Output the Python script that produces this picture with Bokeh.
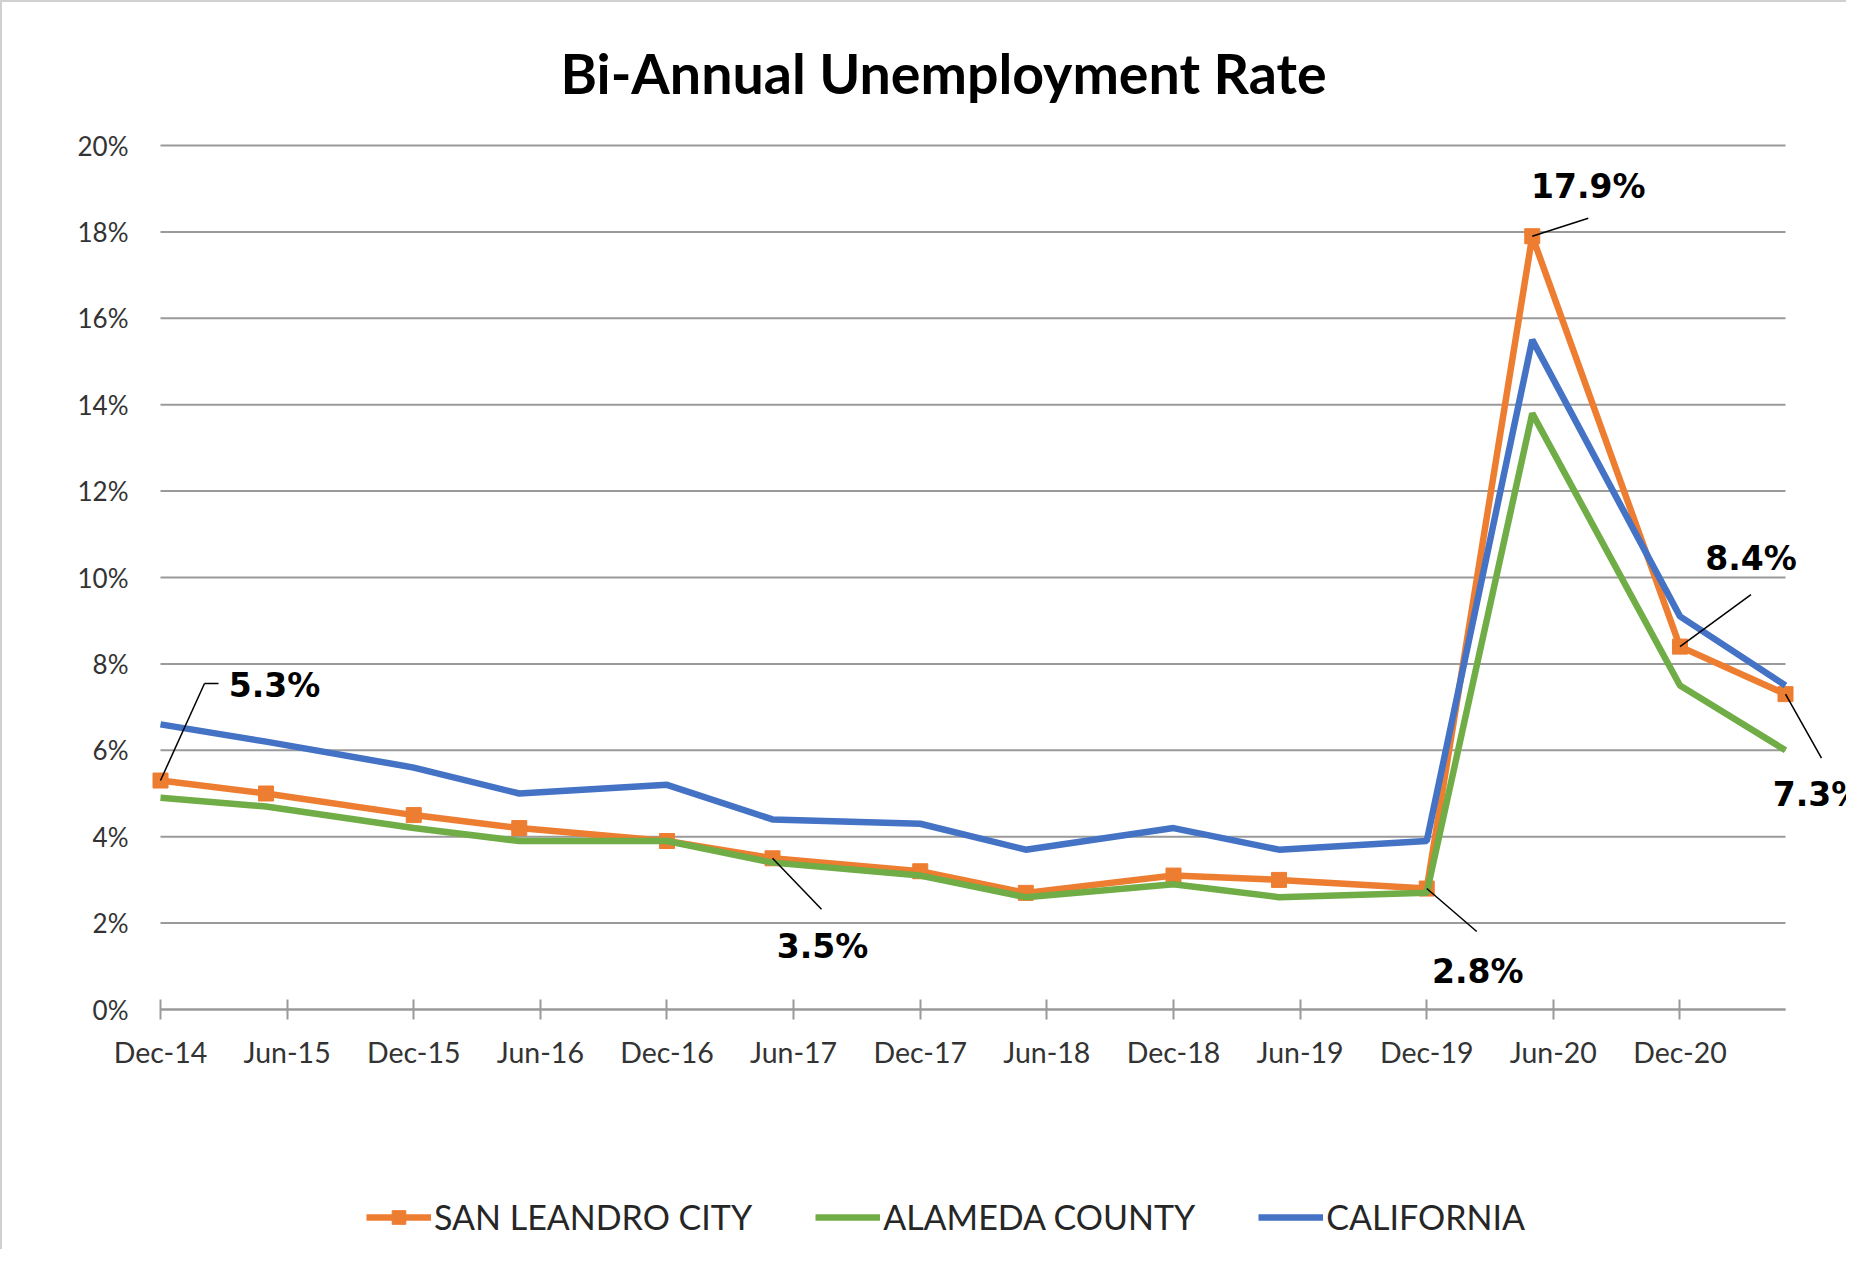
from bokeh.plotting import figure
from bokeh.models import (Range1d, FixedTicker, Legend, LegendItem, Label, Arrow,
                          ColumnDataSource)
from bokeh.embed import file_html
from bokeh.resources import INLINE

# ---------------- data ----------------
# months after Dec-2014 at which each observation is plotted (Dec / May of each year)
months = [0, 5, 12, 17, 24, 29, 36, 41, 48, 53, 60, 65, 72, 77]
san_leandro = [5.3, 5.0, 4.5, 4.2, 3.9, 3.5, 3.2, 2.7, 3.1, 3.0, 2.8, 17.9, 8.4, 7.3]
alameda = [4.9, 4.7, 4.2, 3.9, 3.9, 3.4, 3.1, 2.6, 2.9, 2.6, 2.7, 13.8, 7.5, 6.0]
california = [6.6, 6.2, 5.6, 5.0, 5.2, 4.4, 4.3, 3.7, 4.2, 3.7, 3.9, 15.5, 9.1, 7.5]

x_tick_pos = [0, 6, 12, 18, 24, 30, 36, 42, 48, 54, 60, 66, 72]
x_tick_labels = ["Dec-14", "Jun-15", "Dec-15", "Jun-16", "Dec-16", "Jun-17", "Dec-17",
                 "Jun-18", "Dec-18", "Jun-19", "Dec-19", "Jun-20", "Dec-20"]
y_tick_pos = [0, 2, 4, 6, 8, 10, 12, 14, 16, 18, 20]
y_tick_labels = ["0%", "2%", "4%", "6%", "8%", "10%", "12%", "14%", "16%", "18%", "20%"]

series_names = ["SAN LEANDRO CITY", "ALAMEDA COUNTY", "CALIFORNIA"]
colors = ["#ED7D31", "#70AD47", "#4472C4"]

# indices of San Leandro points that carry a call-out label
callout_idx = [0, 5, 10, 11, 12, 13]

# ---------------- layout constants ----------------
W, H = 1846, 1249
TOP = 132
ZERO_X = 158             # figure pixel column of the first month
ZERO_Y = 1007            # figure pixel row of the 0 % line
px_x = 1625 / (months[-1] - months[0])         # screen px per month
px_y = 864 / (y_tick_pos[-1] - y_tick_pos[0])  # screen px per percentage point
X0 = months[0] - ZERO_X / px_x
X1 = months[0] + (W - ZERO_X) / px_x
Y0 = y_tick_pos[0] - (H - ZERO_Y) / px_y
Y1 = y_tick_pos[0] + (ZERO_Y - TOP) / px_y

p = figure(width=W, height=H, output_backend="svg", toolbar_location=None,
           x_range=Range1d(X0, X1), y_range=Range1d(Y0, Y1),
           min_border_left=0, min_border_right=0,
           min_border_top=TOP, min_border_bottom=0,
           background_fill_color="white", border_fill_color="white")
p.outline_line_color = None
p.styles = {"border-top": "2px solid #d0d0d0", "border-left": "2px solid #d0d0d0"}

# title
p.title.text = "Bi-Annual Unemployment Rate"
p.title.text_font = "Lato"
p.title.text_font_style = "bold"
p.title.text_font_size = "55.5px"
p.title.text_color = "#000000"
p.title.align = "left"
p.title.offset = 400 + ZERO_X
p.title.standoff = 57

# axes
grid_col = "#9a9a9a"
xa = p.xaxis[0]
xa.fixed_location = 0
xa.ticker = FixedTicker(ticks=x_tick_pos)
xa.bounds = (months[0], months[-1])
xa.major_label_overrides = {t: l for t, l in zip(x_tick_pos, x_tick_labels)}
xa.axis_line_color = grid_col
xa.axis_line_width = 2
xa.major_tick_line_color = grid_col
xa.major_tick_line_width = 2
xa.major_tick_in = 10
xa.major_tick_out = 10
xa.minor_tick_line_color = None
xa.major_label_standoff = 15
xa.major_label_text_font = "Lato"
xa.major_label_text_font_size = "28.5px"
xa.major_label_text_color = "#333333"

ya = p.yaxis[0]
ya.fixed_location = months[0]
ya.ticker = FixedTicker(ticks=y_tick_pos)
ya.bounds = (y_tick_pos[0], y_tick_pos[-1])
ya.major_label_overrides = {t: l for t, l in zip(y_tick_pos, y_tick_labels)}
ya.axis_line_color = None
ya.major_tick_line_color = None
ya.major_tick_out = 0
ya.major_tick_in = 0
ya.minor_tick_line_color = None
ya.major_label_standoff = 32
ya.major_label_text_font = "Lato"
ya.major_label_text_font_size = "26px"
ya.major_label_text_color = "#333333"

p.xgrid.grid_line_color = None
p.ygrid.grid_line_color = None

# horizontal gridlines spanning only the data extent
n = len(y_tick_pos)
g = p.segment(x0=[months[0]] * n, x1=[months[-1]] * n, y0=y_tick_pos, y1=y_tick_pos,
              line_color=grid_col, line_width=2)
g.level = "underlay"

# series
src = ColumnDataSource(dict(x=months, sl=san_leandro, al=alameda, ca=california))
r_sl = p.line("x", "sl", source=src, line_color=colors[0], line_width=6.5)
r_slm = p.scatter("x", "sl", source=src, marker="square", size=15,
                  fill_color=colors[0], line_color=colors[0])
r_al = p.line("x", "al", source=src, line_color=colors[1], line_width=6.5)
r_ca = p.line("x", "ca", source=src, line_color=colors[2], line_width=6.5)

# call-outs: (leader end dx, dy), optional bend, text centre (dx, dy) in screen px
callout_geom = {
    0: ((44, 97), (58, 97), (114, 95)),
    5: ((49, -51), None, (50, -88)),
    10: ((50, -43), None, (51, -83)),
    11: ((56, 18), None, (56, 50)),
    12: ((71, 52), None, (71, 88)),
    13: ((36, -64), None, (33, -100)),
}
for i in callout_idx:
    xv, yv = months[i], san_leandro[i]
    lead, bend, txt = callout_geom[i]
    xe, ye = xv + lead[0] / px_x, yv + lead[1] / px_y
    p.add_layout(Arrow(end=None, x_start=xv, y_start=yv, x_end=xe, y_end=ye,
                       line_color="#000000", line_width=1.5))
    if bend is not None:
        p.add_layout(Arrow(end=None, x_start=xe, y_start=ye,
                           x_end=xv + bend[0] / px_x, y_end=yv + bend[1] / px_y,
                           line_color="#000000", line_width=1.5))
    p.add_layout(Label(x=xv, y=yv, x_offset=txt[0], y_offset=txt[1],
                       text=f"{yv:.1f}%", text_align="center", text_baseline="middle",
                       text_font="DejaVu Sans", text_font_style="bold",
                       text_font_size="33px", text_color="#000000"))

legend = Legend(items=[LegendItem(label=series_names[0], renderers=[r_sl, r_slm]),
                       LegendItem(label=series_names[1], renderers=[r_al]),
                       LegendItem(label=series_names[2], renderers=[r_ca])],
                orientation="horizontal", location=(206 + ZERO_X, 14),
                glyph_width=65, glyph_height=34, label_standoff=3, spacing=63,
                padding=0, margin=0, border_line_color=None,
                background_fill_alpha=0,
                label_text_font="Lato", label_text_font_size="34px",
                label_text_color="#262626")
p.add_layout(legend, "center")

open("out.html", "w").write(file_html(p, INLINE))
